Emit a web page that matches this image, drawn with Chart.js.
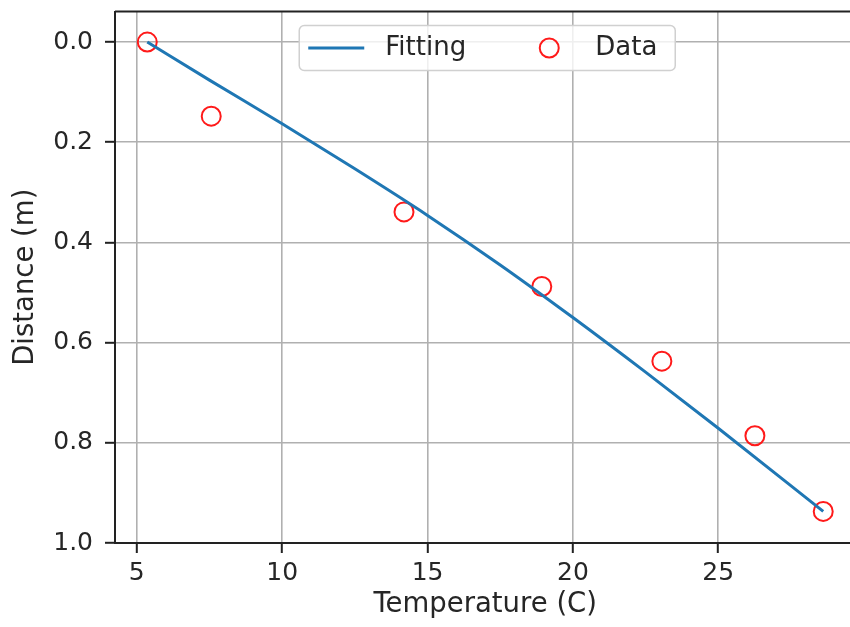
<!DOCTYPE html>
<html>
<head>
<meta charset="utf-8">
<script src="https://cdn.jsdelivr.net/npm/chart.js@4"></script>
<style>
  html, body { margin:0; padding:0; background:#fff; }
  #wrap { width:850px; height:627px; overflow:hidden; }
</style>
</head>
<body>
<div id="wrap"><canvas id="c" width="880" height="627"></canvas></div>
<script>
/* ---- data ---- */
const temps        = [5.36, 7.56, 14.19, 18.93, 23.06, 26.26, 28.61];
const distances    = [0.0, 0.148, 0.339, 0.488, 0.637, 0.786, 0.937];
const fitTemps     = [5.36, 7.5, 10, 12.5, 15, 17.5, 20, 22.5, 25, 28.61];
const fitDistances = [0.0, 0.076, 0.163, 0.253, 0.346, 0.445, 0.550, 0.659, 0.771, 0.937];
const xTicks = [5, 10, 15, 20, 25];
const yTicks = [0.0, 0.2, 0.4, 0.6, 0.8, 1.0];

const FONT = 'DejaVu Sans';
const TXT  = '#262626';
const BLUE = '#1f77b4';
const RED  = '#ff1a1a';

const pts = (xs, ys) => xs.map((x, i) => ({ x, y: ys[i] }));

// top/right spines (left/bottom come from the axis borders)
const frame = {
  id: 'frame',
  afterDraw(chart) {
    const { ctx, chartArea: a } = chart;
    ctx.save();
    ctx.strokeStyle = '#222';
    ctx.lineWidth = 2;
    ctx.beginPath();
    ctx.moveTo(a.left, a.top); ctx.lineTo(a.right, a.top); ctx.lineTo(a.right, a.bottom);
    ctx.stroke();
    ctx.restore();
  }
};

// matplotlib-like legend, upper center
const mplLegend = {
  id: 'mplLegend',
  afterDraw(chart) {
    const { ctx, chartArea: a } = chart;
    const w = 376, h = 45;
    const x0 = (a.left + a.right) / 2 - w / 2 + 2, y0 = a.top + 14, cy = y0 + h / 2;
    ctx.save();
    ctx.beginPath();
    ctx.roundRect(x0, y0, w, h, 5);
    ctx.fillStyle = 'rgba(255,255,255,0.8)';
    ctx.fill();
    ctx.strokeStyle = '#d0d0d0';
    ctx.lineWidth = 1.5;
    ctx.stroke();

    ctx.strokeStyle = BLUE; ctx.lineWidth = 3;
    ctx.beginPath(); ctx.moveTo(x0 + 9, cy); ctx.lineTo(x0 + 65, cy); ctx.stroke();

    ctx.strokeStyle = RED; ctx.lineWidth = 2;
    ctx.beginPath(); ctx.arc(x0 + 250, cy, 9.5, 0, Math.PI * 2); ctx.stroke();

    ctx.fillStyle = TXT;
    ctx.font = `26px "${FONT}"`;
    ctx.textBaseline = 'middle';
    ctx.fillText(chart.data.datasets[0].label, x0 + 86, cy);
    ctx.fillText(chart.data.datasets[1].label, x0 + 296, cy);
    ctx.restore();
  }
};

new Chart(document.getElementById('c'), {
  type: 'scatter',
  data: {
    datasets: [
      { label: 'Fitting', data: pts(fitTemps, fitDistances), showLine: true, borderColor: BLUE, borderWidth: 3,
        pointRadius: 0, cubicInterpolationMode: 'monotone' },
      { label: 'Data', data: pts(temps, distances), borderColor: RED, backgroundColor: 'transparent',
        borderWidth: 2, pointRadius: 9.5, pointHoverRadius: 9.5 }
    ]
  },
  options: {
    responsive: false,
    animation: false,
    layout: { padding: { top: 11, right: 24.5, bottom: 0, left: 0 } },
    plugins: { legend: { display: false }, tooltip: { enabled: false } },
    scales: {
      x: {
        type: 'linear', min: 4.25, max: 29.72,
        afterBuildTicks: ax => { ax.ticks = xTicks.map(v => ({ value: v })); },
        afterFit: ax => { ax.height = 84; ax.paddingLeft = 0; ax.paddingRight = 0; },
        ticks: { color: TXT, font: { family: FONT, size: 25 }, padding: 5, callback: v => String(v) },
        grid: { color: '#b0b0b0', lineWidth: 1.6, tickColor: '#222', tickLength: 10, tickWidth: 2 },
        border: { color: '#222', width: 2 },
        title: { display: true, text: 'Temperature (C)', color: TXT, font: { family: FONT, size: 27.5 }, padding: { top: 0, bottom: 6 } }
      },
      y: {
        type: 'linear', reverse: true, min: -0.061, max: 1.0,
        afterBuildTicks: ax => { ax.ticks = yTicks.map(v => ({ value: v })); },
        afterFit: ax => { ax.width = 115; ax.paddingTop = 0; ax.paddingBottom = 0; },
        ticks: { color: TXT, font: { family: FONT, size: 25 }, padding: 12, callback: v => v.toFixed(1) },
        grid: { color: '#b0b0b0', lineWidth: 1.6, tickColor: '#222', tickLength: 10, tickWidth: 2 },
        border: { color: '#222', width: 2 },
        title: { display: true, text: 'Distance (m)', color: TXT, font: { family: FONT, size: 27.5 }, padding: { top: 9, bottom: 0 } }
      }
    }
  },
  plugins: [frame, mplLegend]
});
</script>
</body>
</html>
